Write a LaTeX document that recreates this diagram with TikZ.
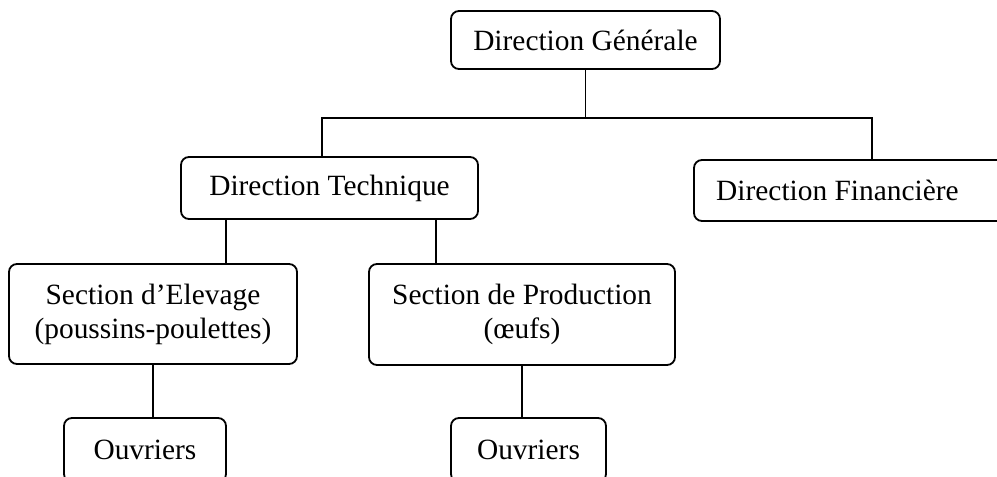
\documentclass[tikz,border=0pt]{standalone}
\usepackage{fontspec}
\setmainfont{Liberation Serif}
\begin{document}
\begin{tikzpicture}[x=1pt,y=-1pt,
  box/.style={draw=black, line width=1.8pt, rounded corners=8pt, inner sep=0pt, align=center,
    font=\fontsize{29.4}{34}\selectfont},
  txt/.style={inner sep=0pt, font=\fontsize{29.4}{34}\selectfont},
  conn/.style={draw=black, line width=1.9pt}]
\useasboundingbox (0,0) rectangle (997,477);
\node[box, minimum width=369pt, minimum height=61pt] (DF) at (878.5,190.5) {};
\node[txt, anchor=west] (DFt) at (716,190.5) {Direction Financière};
\node[box, minimum width=269pt, minimum height=58pt] (DG) at (585.5,40) {Direction Générale};
\node[box, minimum width=297pt, minimum height=62pt] (DT) at (329.5,188) {Direction Technique};
\node[box, minimum width=288pt, minimum height=100pt] (SE) at (153,314) {Section d’Elevage\\(poussins-poulettes)};
\node[box, minimum width=306pt, minimum height=101pt] (SP) at (522,314.5) {Section de Production\\(œufs)};
\node[box, minimum width=162pt, minimum height=64pt] (OL) at (145,450) {Ouvriers};
\node[box, minimum width=155pt, minimum height=64pt] (OR) at (528.5,450) {Ouvriers};
\coordinate (hy) at (0,118);
\coordinate (xl) at (322,0);
\coordinate (xr) at (872,0);
\coordinate (xa) at (226,0);
\coordinate (xb) at (436,0);
\draw[conn] (DG.south) -- (DG.south |- hy);
\draw[conn] (DT.north -| xl) -- (xl |- hy) -- (xr |- hy) -- (DF.north -| xr);
\draw[conn] (DT.south -| xa) -- (SE.north -| xa);
\draw[conn] (DT.south -| xb) -- (SP.north -| xb);
\draw[conn] (SE.south) -- (SE.south |- OL.north);
\draw[conn] (SP.south) -- (SP.south |- OR.north);
\end{tikzpicture}
\end{document}
